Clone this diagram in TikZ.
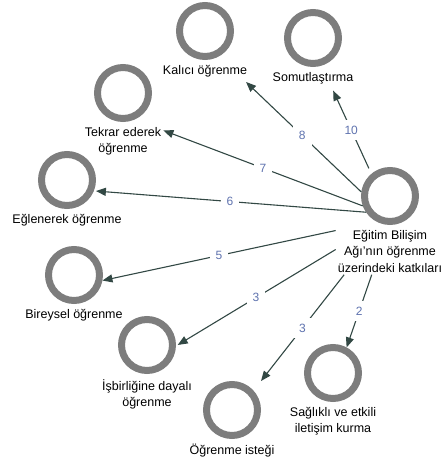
\documentclass[tikz,border=0pt]{standalone}
\usepackage{fontspec}
\setmainfont{Liberation Sans}
\usepackage{tikz}
\usetikzlibrary{positioning}
\usetikzlibrary{arrows.meta}
\definecolor{ringgray}{RGB}{125,125,125}
\definecolor{edgedark}{RGB}{50,72,68}
\definecolor{numblue}{RGB}{95,115,175}

\begin{document}
\begin{tikzpicture}[x=1pt,y=-1pt]
	\useasboundingbox (0,0) rectangle (441,460);

	\begin{scope}[every node/.style={circle,draw=ringgray,line width=7pt,minimum size=51pt}]
	    \node (H) at (390,196) {};
	    \node (K) at (205,31) {};
	    \node (S) at (313,38) {};
	    \node (T) at (123,93) {};
	    \node (E) at (67,180) {};
	    \node (B) at (74,275) {};
	    \node (I) at (147,345) {};
	    \node (O) at (232,410) {};
	    \node (G) at (333,373) {};
	\end{scope}

	\begin{scope}[every node/.style={font=\fontsize{12.5}{16.5}\selectfont,align=center,inner sep=2pt}]
	    \node[below=3pt of H] (Ht) {Eğitim Bilişim\\Ağı’nın öğrenme\\üzerindeki katkıları};
	    \node[below=3pt of K] (Kt) {Kalıcı öğrenme};
	    \node[below=3pt of S] (St) {Somutlaştırma};
	    \node[below=3pt of T] (Tt) {Tekrar ederek\\öğrenme};
	    \node[below=3pt of E] (Et) {Eğlenerek öğrenme};
	    \node[below=3pt of B] (Bt) {Bireysel öğrenme};
	    \node[below=3pt of I] (It) {İşbirliğine dayalı\\öğrenme};
	    \node[below=3pt of O] (Ot) {Öğrenme isteği};
	    \node[below=3pt of G] (Gt) {Sağlıklı ve etkili\\iletişim kurma};
	\end{scope}

	\begin{scope}[>={Triangle[length=10pt,width=8pt]},
	              every edge/.style={draw=edgedark,line width=1.1pt},
	              every node/.style={fill=white,text=numblue,font=\fontsize{12}{14}\selectfont,inner sep=6pt}]
    	\path [->] (H.130) edge[shorten <=6pt,shorten >=5pt] node {10} (St.-24);
    	\path [->] (H.172) edge[shorten >=4pt] node {8} (Kt.-12);
    	\path [->] (H.200) edge node {7} (Tt.15);
    	\path [->] (H.214) edge[shorten >=2pt] node {6} (E.-22);
    	\path [->] (Ht.159) edge node {5} (B.-11);
    	\path [->] (Ht.178) edge[shorten >=2pt] node {3} (I.-2);
    	\path [->] (Ht.207) edge node {3} (O.north -| O.east);
    	\path [->] (Ht.232) edge node {2} (G.62);
	\end{scope}
\end{tikzpicture}
\end{document}
